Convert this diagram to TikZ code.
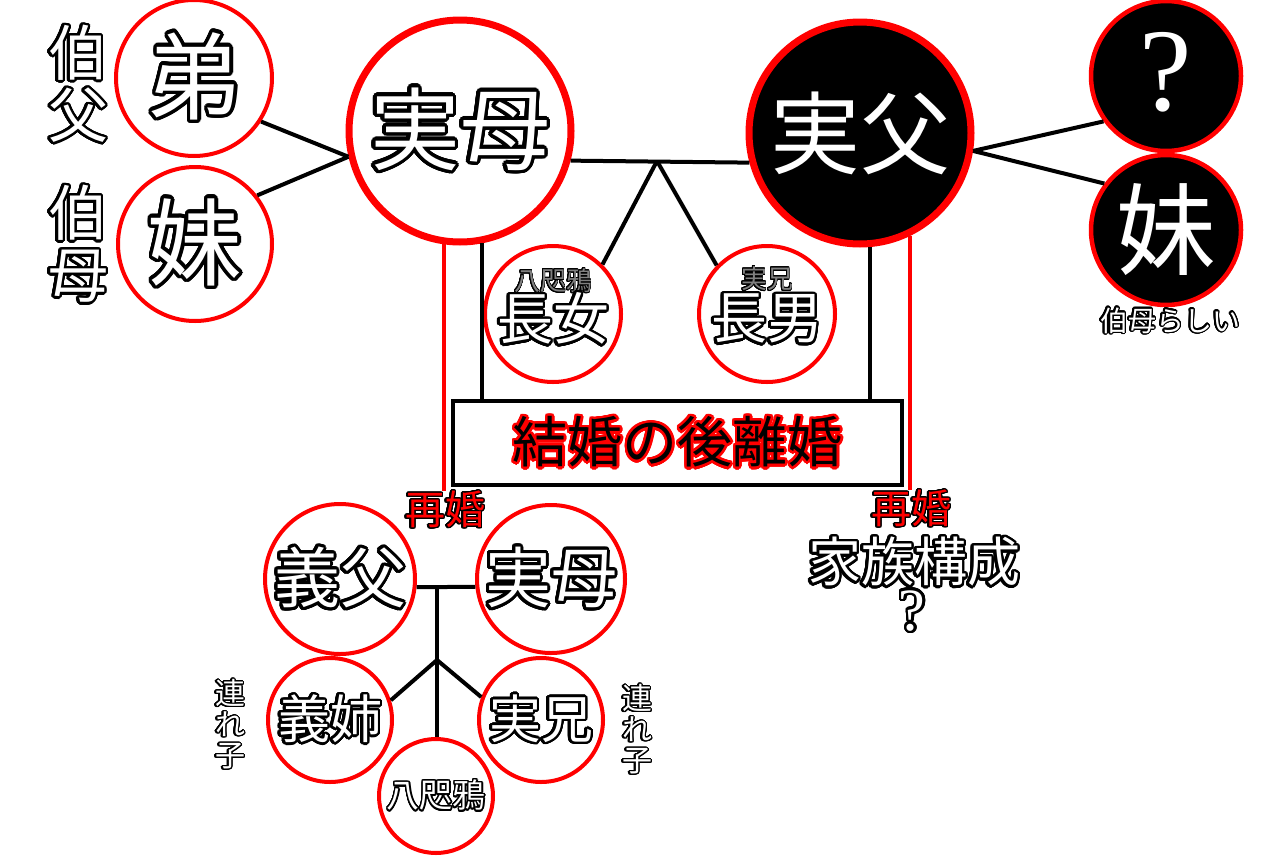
\documentclass[tikz,border=0pt]{standalone}
\usepackage{fontspec}
\usepackage[copies]{contour}
\newfontfamily\jp{Noto Sans CJK JP}
\newfontfamily\serq{Liberation Serif}
\contournumber{32}
\newcommand\outl[3]{{\contourlength{#1pt}\contour{#2}{#3}}}
\tikzset{
  redc/.style={circle, draw=red, line width=4, fill=white, inner sep=0, minimum size=#1},
  bigc/.style={circle, draw=red, line width=7, fill=white, inner sep=0, minimum size=#1},
  blkc/.style={circle, draw=red, line width=#1, fill=black, inner sep=0},
  conn/.style={line width=4, draw=black},
  redline/.style={line width=4, draw=red},
  txt/.style={inner sep=0, align=center},
  fs/.style={font=\jp\fontsize{#1}{#1}\selectfont},
}
\begin{document}
\begin{tikzpicture}[x=1pt,y=-1pt]
\useasboundingbox (0,0) rectangle (1280,865);
% ---- top left
\node[redc=156] (bro) at (194,78) {};
\node[redc=154] (sisL) at (195,244) {};
\node[txt, fs=95, text=white] (tbro) at (bro) {\outl{3.5}{black}{弟}};
\node[txt, fs=95, text=white] (tsisL) at (sisL) {\outl{3.5}{black}{妹}};
\node[txt, font=\jp\fontsize{60}{62}\selectfont, text=white] (uncle) at (78,85) {\outl{2.5}{black}{伯}\\\outl{2.5}{black}{父}};
\node[txt, font=\jp\fontsize{60}{62}\selectfont, text=white] (aunt) at (78,245) {\outl{2.5}{black}{伯}\\\outl{2.5}{black}{母}};
% ---- parents
\node[bigc=222] (mom) at (460,131) {};
\node[txt, fs=90, text=white] (tmom) at (mom) {\outl{3.5}{black}{実母}};
\node[blkc=7, minimum size=222] (dad) at (860,133) {};
\node[txt, fs=90, text=white] (tdad) at (dad) {実父};
% ---- right
\node[blkc=4.5, minimum size=150] (q) at (1166,76) {};
\node[txt, font=\serq\fontsize{118}{118}\selectfont, text=white] (tq) at (1166,72) {?};
\node[blkc=4.5, minimum size=150] (sisR) at (1166,230) {};
\node[txt, fs=100, text=white] (tsisR) at (sisR) {妹};
\node[txt, fs=28, text=white] (auntR) at (1170,321) {\outl{1.2}{black}{伯母らしい}};
% ---- children
\node[redc=136] (chA) at (553,314) {};
\node[redc=136] (chB) at (767,314) {};
\node[txt, fs=26, text=gray] (nA) at (553,281) {\outl{0.7}{black}{八咫鴉}};
\node[txt, fs=56, text=white] (tA) at (553,320) {\outl{2.5}{black}{長女}};
\node[txt, fs=26, text=gray] (nB) at (767,279) {\outl{0.7}{black}{実兄}};
\node[txt, fs=56, text=white] (tB) at (767,320) {\outl{2.5}{black}{長男}};
% ---- box
\node[draw=black, line width=4, minimum width=449, minimum height=84, inner sep=0, fill=white] (box) at (677.5,443) {};
\node[txt, fs=55, text=black] (tbox) at (box) {\outl{2.5}{red}{結婚の後離婚}};
\node[txt, fs=40, text=red] (remL) at (445,510) {\outl{1.2}{black}{再婚}};
\node[txt, fs=40, text=red] (remR) at (911,509) {\outl{1.2}{black}{再婚}};
% ---- unknown family
\node[txt, fs=53, text=white] (fam) at (914,563) {\outl{2.5}{black}{家族構成}};
\node[txt, font=\serq\fontsize{60}{60}\selectfont, text=white] (famq) at (912,612) {\outl{2.5}{black}{?}};
% ---- new family
\node[redc=150] (sf) at (340,579) {};
\node[redc=148] (mom2) at (551,579) {};
\node[txt, fs=66, text=white] (tsf) at (sf) {\outl{3}{black}{義父}};
\node[txt, fs=66, text=white] (tmom2) at (mom2) {\outl{3}{black}{実母}};
\node[redc=124] (ss) at (330,720) {};
\node[redc=124] (eb) at (541,720) {};
\node[redc=114] (me) at (436,796) {};
\node[txt, fs=52, text=white] (tss) at (ss) {\outl{2.5}{black}{義姉}};
\node[txt, fs=52, text=white] (teb) at (eb) {\outl{2.5}{black}{実兄}};
\node[txt, fs=33, text=white] (tme) at (me) {\outl{1.5}{black}{八咫鴉}};
\node[txt, font=\jp\fontsize{30}{31}\selectfont, text=white] (kL) at (230,725) {\outl{1.2}{black}{連}\\\outl{1.2}{black}{れ}\\\outl{1.2}{black}{子}};
\node[txt, font=\jp\fontsize{30}{31}\selectfont, text=white] (kR) at (637,730) {\outl{1.2}{black}{連}\\\outl{1.2}{black}{れ}\\\outl{1.2}{black}{子}};
% ---- connectors
\draw[conn] (bro.-33) -- (mom.193.6);
\draw[conn] (sisL.38.8) -- (mom.193.6);
\coordinate (j1) at (657,161);
\draw[conn] (mom.-15.6) -- (dad.195.6);
\draw[conn] (j1) -- (chA.45.6);
\draw[conn] (j1) -- (chB.136.7);
\draw[conn] (dad.-9.4) -- (q.216.7);
\draw[conn] (dad.-9.4) -- (sisR.143);
\draw[conn] (mom.-79.5) -- (mom.-79.5 |- box.north);
\draw[conn] (dad.-85) -- (dad.-85 |- box.north);
\draw[redline] (mom.-98.5) -- (mom.-98.5 |- remL.north);
\draw[redline] (dad.-64.2) -- (dad.-64.2 |- remR.north);
\coordinate (j2) at (437,587);
\coordinate (j3) at (437,660);
\draw[conn] (sf.-6) -- (mom2.186);
\draw[conn] (j2) -- (j2 |- me.north);
\draw[conn] (j3) -- (ss.18.4);
\draw[conn] (j3) -- (eb.159);
\end{tikzpicture}
\end{document}
